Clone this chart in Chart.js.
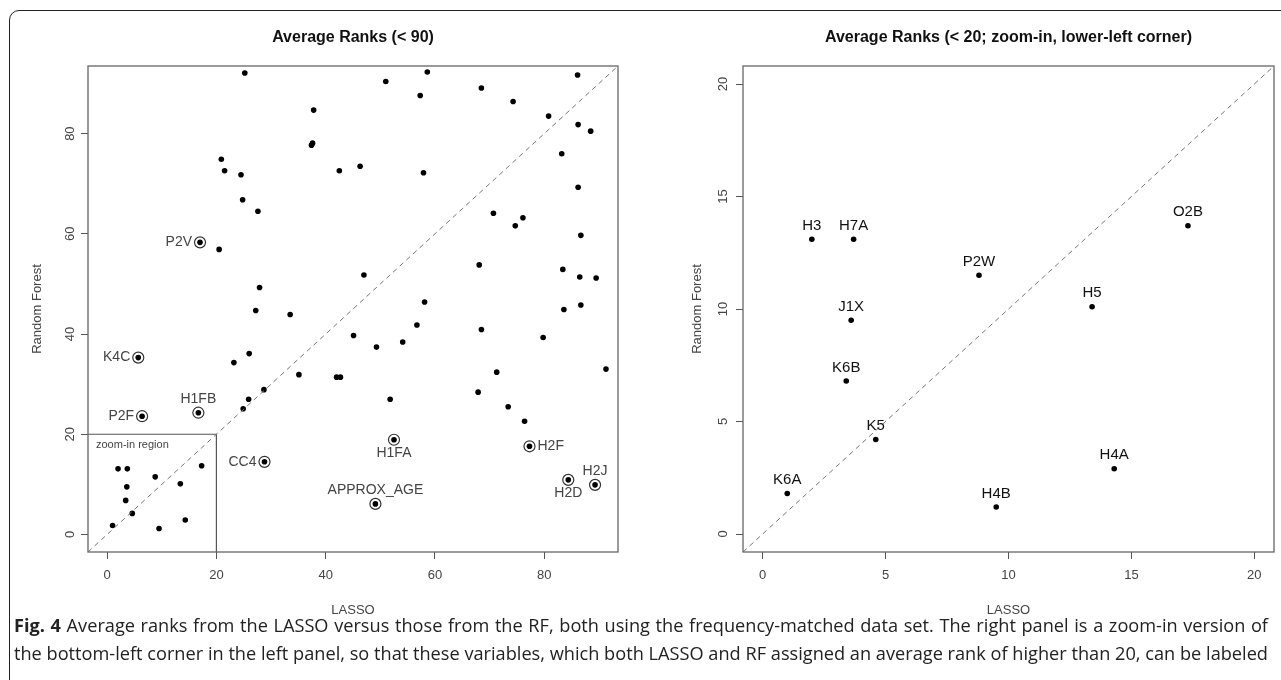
<!DOCTYPE html>
<html>
<head>
<meta charset="utf-8">
<script src="https://cdn.jsdelivr.net/npm/chart.js@4.4.1/dist/chart.umd.min.js"></script>
<style>
    body { margin: 0; background: #fff; width: 1281px; height: 680px; overflow: hidden; position: relative; }
    #frame { position: absolute; left: 9px; top: 10px; width: 1300px; height: 720px; border: 1.5px solid #222; border-radius: 10px; box-sizing: border-box; }
    #left { position: absolute; left: 0; top: 0; }
    #right { position: absolute; left: 650px; top: 0; }
    #caption { position: absolute; left: 14px; top: 611px; font-family: "Open Sans", sans-serif; font-size: 18px; line-height: 28px; color: #222; white-space: nowrap; }
    #caption div { display: table; }
</style>
</head>
<body>
<div id="frame"></div>
<canvas id="left" width="640" height="630"></canvas>
<canvas id="right" width="631" height="630"></canvas>
<div id="caption">
    <div class="capline"><b>Fig. 4</b> Average ranks from the LASSO versus those from the RF, both using the frequency-matched data set. The right panel is a zoom-in version of</div>
    <div class="capline">the bottom-left corner in the left panel, so that these variables, which both LASSO and RF assigned an average rank of higher than 20, can be labeled</div>
</div>
<script>
// variables ranked below 20 by both methods (shown in both panels)
const zoomNames = ['K6A', 'H3', 'K6B', 'J1X', 'H7A', 'K5', 'P2W', 'H4B', 'H5', 'H4A', 'O2B'];
const zoomLasso = [1.0, 2.0, 3.4, 3.6, 3.7, 4.6, 8.8, 9.5, 13.4, 14.3, 17.3];
const zoomRF = [1.8, 13.1, 6.8, 9.5, 13.1, 4.2, 11.5, 1.2, 10.1, 2.9, 13.7];

// labelled (circled) variables in the left panel
const markedNames = ['P2V', 'K4C', 'P2F', 'H1FB', 'CC4', 'H1FA', 'APPROX_AGE', 'H2F', 'H2D', 'H2J'];
const markedLasso = [17.0, 5.7, 6.4, 16.7, 28.8, 52.5, 49.1, 77.3, 84.4, 89.3];
const markedRF = [58.3, 35.3, 23.6, 24.3, 14.5, 18.9, 6.1, 17.6, 10.9, 9.9];

// all other variables
const otherLasso = [25.2, 37.8, 37.4, 37.6, 20.9, 21.5, 24.5, 42.5, 24.8, 27.6, 20.5, 27.9,
    58.6, 51.0, 57.3, 68.5, 86.1, 74.3, 80.8, 86.2, 88.5, 83.2, 46.3, 57.9, 86.2, 70.7, 76.1,
    74.7, 86.7, 68.1, 83.4, 86.5, 89.5, 47.0, 27.2, 33.5, 45.1, 26.0, 23.2, 35.1, 42.0, 42.7,
    28.7, 25.9, 24.9, 58.1, 49.3, 54.1, 56.7, 68.5, 79.8, 83.6, 86.7, 91.3, 71.3, 67.9, 51.8,
    73.4, 76.4];
const otherRF = [92.1, 84.7, 77.7, 78.1, 74.9, 72.6, 71.8, 72.6, 66.8, 64.5, 56.9, 49.3,
    92.3, 90.4, 87.6, 89.1, 91.7, 86.4, 83.5, 81.8, 80.5, 76.0, 73.5, 72.2, 69.3, 64.1, 63.2,
    61.6, 59.7, 53.8, 52.9, 51.4, 51.2, 51.8, 44.7, 43.9, 39.7, 36.1, 34.3, 31.9, 31.4, 31.4,
    28.9, 27.0, 25.1, 46.4, 37.4, 38.4, 41.8, 40.9, 39.3, 44.9, 45.8, 33.0, 32.4, 28.4, 27.0,
    25.5, 22.6];

const leftTicks = [0, 20, 40, 60, 80];
const rightTicks = [0, 5, 10, 15, 20];
const zoomLimit = 20;

const leftRange = [-3.5, 93.5];
const rightRange = [-0.8, 20.8];

// where each label sits relative to its point
const markedSide = {
    P2V: 'left', K4C: 'left', P2F: 'left', H1FB: 'above', CC4: 'left', H1FA: 'below',
    APPROX_AGE: 'above', H2F: 'right', H2D: 'below', H2J: 'above'
};

Chart.defaults.font.family = "'Liberation Sans', Arial, sans-serif";
Chart.defaults.color = '#444';

const toPoints = (xs, ys) => xs.map((x, i) => ({x: x, y: ys[i]}));

const boxPlugin = {
    id: 'box',
    afterDatasetsDraw(chart) {
        const a = chart.chartArea;
        const ctx = chart.ctx;
        ctx.save();
        ctx.strokeStyle = '#666';
        ctx.lineWidth = 1.3;
        ctx.strokeRect(a.left, a.top, a.right - a.left, a.bottom - a.top);
        ctx.restore();
    }
};

const labelPlugin = {
    id: 'pointLabels',
    afterDatasetsDraw(chart, args, opts) {
        const ctx = chart.ctx;
        const xs = chart.scales.x, ys = chart.scales.y;
        ctx.save();
        ctx.font = opts.font;
        ctx.fillStyle = opts.color;
        opts.items.forEach(it => {
            let px = xs.getPixelForValue(it.x);
            let py = ys.getPixelForValue(it.y);
            let gap = opts.gap;
            if (it.side === 'left') {
                ctx.textAlign = 'right'; ctx.textBaseline = 'middle';
                ctx.fillText(it.text, px - gap, py);
            } else if (it.side === 'right') {
                ctx.textAlign = 'left'; ctx.textBaseline = 'middle';
                ctx.fillText(it.text, px + gap, py);
            } else if (it.side === 'below') {
                ctx.textAlign = 'center'; ctx.textBaseline = 'top';
                ctx.fillText(it.text, px, py + gap - 2);
            } else {
                ctx.textAlign = 'center'; ctx.textBaseline = 'bottom';
                ctx.fillText(it.text, px, py - gap + 1);
            }
        });
        if (opts.region) {
            ctx.font = '11px "Liberation Sans", Arial, sans-serif';
            ctx.textAlign = 'left';
            ctx.textBaseline = 'middle';
            ctx.fillText('zoom-in region', xs.getPixelForValue(xs.min) + 8, ys.getPixelForValue(zoomLimit) + 11);
        }
        ctx.restore();
    }
};

function axis(range, ticks, titlePad, size, tickPad, vertical) {
    return {
        type: 'linear',
        min: range[0],
        max: range[1],
        afterBuildTicks: s => { s.ticks = ticks.map(v => ({value: v})); },
        afterFit: s => { if (vertical) { s.width = size; } else { s.height = size; } },
        border: {display: false},
        grid: {drawOnChartArea: false, drawTicks: true, tickLength: 7, color: '#555'},
        ticks: {
            font: {size: 13},
            color: '#444',
            padding: tickPad,
            minRotation: vertical ? 90 : 0,
            maxRotation: vertical ? 90 : 0,
            crossAlign: vertical ? 'center' : 'near'
        },
        title: {
            display: true,
            text: vertical ? 'Random Forest' : 'LASSO',
            font: {size: 13},
            color: '#444',
            padding: vertical ? {top: titlePad, bottom: 0} : {top: 0, bottom: titlePad}
        }
    };
}

function makeChart(canvasId, cfg) {
    const lo = cfg.range[0], hi = cfg.range[1];
    let datasets = [
        {
            type: 'line',
            data: [{x: lo, y: lo}, {x: hi, y: hi}],
            borderColor: '#777',
            borderWidth: 1,
            borderDash: [5, 4],
            pointRadius: 0
        }
    ];
    datasets = datasets.concat(cfg.extra);

    new Chart(document.getElementById(canvasId), {
        type: 'scatter',
        data: {datasets: datasets},
        options: {
            responsive: false,
            animation: false,
            events: [],
            layout: {padding: {left: 0, right: cfg.rightPad, top: 0, bottom: 0}},
            plugins: {
                legend: {display: false},
                tooltip: {enabled: false},
                title: {
                    display: true,
                    text: cfg.title,
                    fullSize: false,
                    color: '#111',
                    font: {size: 16, weight: 'bold'},
                    padding: {top: 28, bottom: 18.8}
                },
                pointLabels: cfg.labels
            },
            scales: {
                x: axis(cfg.range, cfg.ticks, 12, 78, 9, false),
                y: axis(cfg.range, cfg.ticks, cfg.yTitlePad, cfg.yWidth, cfg.yTickPad, true)
            }
        },
        plugins: [boxPlugin, labelPlugin]
    });
}

const dotStyle = {pointRadius: 2.8, pointBackgroundColor: '#000', pointBorderWidth: 0, showLine: false};

makeChart('left', {
    title: 'Average Ranks (< 90)',
    range: leftRange,
    ticks: leftTicks,
    rightPad: 22,
    yWidth: 88,
    yTitlePad: 30,
    yTickPad: 3,
    extra: [
        {
            type: 'line',
            data: [{x: leftRange[0], y: zoomLimit}, {x: zoomLimit, y: zoomLimit}, {x: zoomLimit, y: leftRange[0]}],
            borderColor: '#555',
            borderWidth: 1.2,
            pointRadius: 0
        },
        Object.assign({data: toPoints(otherLasso, otherRF)}, dotStyle),
        Object.assign({data: toPoints(zoomLasso, zoomRF)}, dotStyle),
        Object.assign({data: toPoints(markedLasso, markedRF)}, dotStyle),
        {
            data: toPoints(markedLasso, markedRF),
            pointRadius: 5.5,
            pointBackgroundColor: 'rgba(0,0,0,0)',
            pointBorderColor: '#333',
            pointBorderWidth: 1.2,
            showLine: false
        }
    ],
    labels: {
        font: '14px "Liberation Sans", Arial, sans-serif',
        color: '#444',
        gap: 8,
        region: true,
        items: markedNames.map((n, i) => ({text: n, x: markedLasso[i], y: markedRF[i], side: markedSide[n]}))
    }
});

makeChart('right', {
    title: 'Average Ranks (< 20; zoom-in, lower-left corner)',
    range: rightRange,
    ticks: rightTicks,
    rightPad: 7,
    yWidth: 93,
    yTitlePad: 40,
    yTickPad: 5,
    extra: [
        Object.assign({data: toPoints(zoomLasso, zoomRF)}, dotStyle)
    ],
    labels: {
        font: '15px "Liberation Sans", Arial, sans-serif',
        color: '#111',
        gap: 7,
        region: false,
        items: zoomNames.map((n, i) => ({text: n, x: zoomLasso[i], y: zoomRF[i], side: 'above'}))
    }
});

// size the caption so its longest line fills the figure width, then spread the other line to match
const capWidth = 1254;
const cap = document.getElementById('caption');
const lines = Array.from(document.querySelectorAll('.capline'));
const widest = Math.max(...lines.map(l => l.getBoundingClientRect().width));
cap.style.fontSize = (18 * capWidth / widest).toFixed(2) + 'px';
lines.forEach(l => {
    const spaces = (l.textContent.match(/ /g) || []).length;
    const extra = capWidth - l.getBoundingClientRect().width;
    if (extra > 0 && spaces) l.style.wordSpacing = (extra / spaces).toFixed(3) + 'px';
});
</script>
</body>
</html>
